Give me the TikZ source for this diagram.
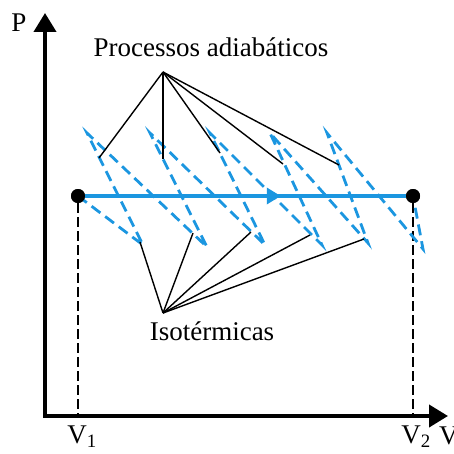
\documentclass[tikz,border=0pt]{standalone}
\usepackage{fontspec}
\setmainfont{Liberation Serif}
\usetikzlibrary{arrows.meta,decorations.markings}
\definecolor{pblue}{RGB}{27,150,224}
\begin{document}
\begin{tikzpicture}[x=1pt,y=-1pt,
  axis/.style={line width=4pt,line join=miter,{Triangle[width=22pt,length=19pt]}-{Triangle[width=22pt,length=19pt]}},
  lbl/.style={font=\fontsize{27}{30}\selectfont,inner sep=0pt},
  guide/.style={line width=1.4pt,black},
  zig/.style={pblue,line width=2.8pt,dash pattern=on 11pt off 6pt},
  proc/.style={pblue,line width=3.6pt,postaction={decorate},
    decoration={markings,mark=at position 0.61 with {\arrow{Triangle[width=16pt,length=14pt]}}}},
  vdash/.style={line width=1.8pt,dash pattern=on 10pt off 4pt},
  dot/.style={circle,fill=black,inner sep=0pt,minimum size=14pt}]
\useasboundingbox (0,0) rectangle (453,454);
% axes
\coordinate (ytop) at (45,13);
\coordinate (org) at (45,416);
\coordinate (xend) at (448,416);
\draw[axis] (ytop) -- (org) -- (xend);
\node[lbl] (P) at (19,23) {P};
\node[lbl,anchor=north west] (V) at (439,427) {V};
% states
\node[dot] (s1) at (78,196) {};
\node[dot] (s2) at (413,196) {};
\coordinate (f1) at (78,416);
\coordinate (f2) at (413,416);
\draw[vdash] (s1) -- (f1);
\draw[vdash] (s2) -- (f2);
\node[lbl] (V1) at (82,437) {V\textsubscript{1}};
\node[lbl] (V2) at (416,437) {V\textsubscript{2}};
% zigzag points
\coordinate (T1) at (87,133);
\coordinate (T2) at (150,133);
\coordinate (T3) at (210,133);
\coordinate (T4) at (270,133);
\coordinate (T5) at (327,133);
\coordinate (B1) at (143,245);
\coordinate (B2) at (207,247);
\coordinate (B3) at (265,245);
\coordinate (B4) at (322,245);
\coordinate (B5) at (368,243);
\coordinate (B6) at (423,249);
\draw[zig] (s1.center) -- (B1) -- (T1) -- (B2) -- (T2) -- (B3) -- (T3) -- (B4) -- (T4) -- (B5) -- (T5) -- (B6) -- (s2.center);
\draw[proc] (s1) -- (s2);
\node[dot] at (s1) {};
\node[dot] at (s2) {};
% labels adiabatic
\node[lbl] (adi) at (211,47) {Processos adiabáticos};
\coordinate (ta) at (163,72);
\coordinate (a1) at (99,158);
\coordinate (a2) at (163,159);
\coordinate (a3) at (220,153);
\coordinate (a4) at (283,164);
\coordinate (a5) at (339,165);
\foreach \e in {a1,a2,a3,a4,a5} \draw[guide] (ta) -- (\e);
% isotherms
\node[lbl] (iso) at (212,331) {Isotérmicas};
\coordinate (ti) at (163,313);
\coordinate (i1) at (140,242);
\coordinate (i2) at (193,233);
\coordinate (i3) at (251,232);
\coordinate (i4) at (310,235);
\coordinate (i5) at (364,239);
\foreach \e in {i1,i2,i3,i4,i5} \draw[guide] (ti) -- (\e);
\end{tikzpicture}
\end{document}
